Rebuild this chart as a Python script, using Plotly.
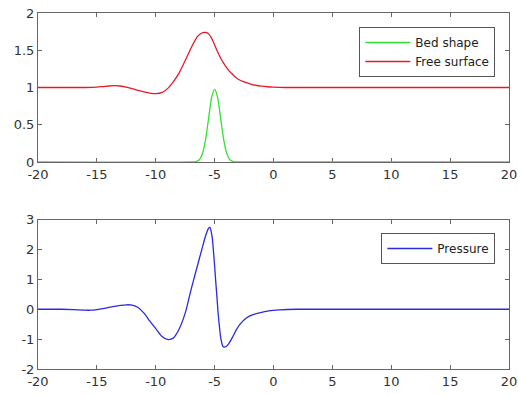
import plotly.graph_objects as go
from plotly.subplots import make_subplots

# ---- data ----
bed_x = [-20, -7.0, -6.6, -6.3, -6.0, -5.75, -5.5, -5.25, -5.0, -4.75, -4.5, -4.25, -4.0, -3.7, -3.4, -3.0, 20]
bed_y = [0, 0, 0.005, 0.03, 0.13, 0.32, 0.6, 0.87, 0.975, 0.87, 0.6, 0.32, 0.13, 0.03, 0.005, 0, 0]

surf_x = [-20, -16, -15, -14.5, -14, -13.5, -13, -12.5, -12, -11.5, -11, -10.5, -10, -9.5, -9, -8.5,
          -8, -7.5, -7, -6.5, -6.25, -6, -5.75, -5.5, -5.25, -5, -4.75, -4.5, -4.25, -4, -3.75, -3.5,
          -3.25, -3, -2.5, -2, -1.5, -1, -0.5, 0, 1, 20]
surf_y = [1.0, 1.0, 1.005, 1.012, 1.02, 1.024, 1.02, 1.005, 0.985, 0.96, 0.94, 0.925, 0.918, 0.93,
          0.985, 1.08, 1.2, 1.36, 1.53, 1.675, 1.715, 1.735, 1.74, 1.72, 1.66, 1.57, 1.48, 1.40,
          1.33, 1.27, 1.22, 1.18, 1.14, 1.11, 1.075, 1.05, 1.03, 1.018, 1.01, 1.005, 1.0, 1.0]

pres_x = [-20, -18, -17, -16, -15.5, -15, -14.5, -14, -13.5, -13, -12.5, -12, -11.5, -11, -10.5,
          -10, -9.5, -9, -8.7, -8.5, -8, -7.5, -7, -6.5, -6, -5.75, -5.5, -5.4, -5.3, -5.2, -5.1,
          -5.0, -4.9, -4.8, -4.7, -4.6, -4.5, -4.4, -4.3, -4.2, -4.0, -3.8, -3.5, -3.15, -2.8, -2.3,
          -1.8, -1.2, -0.4, 0.5, 2, 20]
pres_y = [0, 0, -0.01, -0.03, -0.03, -0.01, 0.02, 0.06, 0.1, 0.13, 0.15, 0.14, 0.06, -0.13, -0.40,
          -0.65, -0.9, -1.01, -1.0, -0.96, -0.65, -0.13, 0.66, 1.40, 2.13, 2.48, 2.72, 2.74, 2.62,
          2.39, 1.95, 1.45, 0.9, 0.4, -0.15, -0.55, -0.9, -1.12, -1.24, -1.27, -1.24, -1.15, -0.95,
          -0.68, -0.48, -0.29, -0.19, -0.12, -0.05, -0.02, 0, 0]

x_ticks = [-20, -15, -10, -5, 0, 5, 10, 15, 20]
x_labels = ["-20", "-15", "-10", "-5", "0", "5", "10", "15", "20"]
top_ticks = [0, 0.5, 1, 1.5, 2]
top_labels = ["0", "0.5", "1", "1.5", "2"]
bot_ticks = [-2, -1, 0, 1, 2, 3]
bot_labels = ["-2", "-1", "0", "1", "2", "3"]

fig = make_subplots(rows=2, cols=1, vertical_spacing=0.1)

fig.add_trace(go.Scatter(x=bed_x, y=bed_y, mode="lines", name="Bed shape",
                         line=dict(color="#33e033", width=1.3, shape="spline", smoothing=0.6),
                         legend="legend"), row=1, col=1)
fig.add_trace(go.Scatter(x=surf_x, y=surf_y, mode="lines", name="Free surface",
                         line=dict(color="#e81a2a", width=1.3, shape="spline", smoothing=0.6),
                         legend="legend"), row=1, col=1)
fig.add_trace(go.Scatter(x=pres_x, y=pres_y, mode="lines", name="Pressure",
                         line=dict(color="#2a2ae0", width=1.3, shape="spline", smoothing=0.8),
                         legend="legend2"), row=2, col=1)

axis_common = dict(showline=True, linecolor="#666666", linewidth=1, mirror="ticks",
                   ticks="inside", ticklen=4, tickcolor="#666666", showgrid=False,
                   zeroline=False, tickfont=dict(family="DejaVu Sans", size=13, color="#333333"),
                   layer="below traces", automargin=False, ticklabeloverflow="allow")

fig.update_xaxes(range=[-20, 20], tickvals=x_ticks, ticktext=x_labels, **axis_common)
fig.update_yaxes(range=[0, 2], tickvals=top_ticks, ticktext=top_labels, row=1, col=1, **axis_common)
fig.update_yaxes(range=[-2, 3], tickvals=bot_ticks, ticktext=bot_labels, row=2, col=1, **axis_common)

fig.update_layout(
    width=518, height=396,
    margin=dict(l=38, r=9, t=13, b=27, autoexpand=False),
    paper_bgcolor="white", plot_bgcolor="white",
    font=dict(family="DejaVu Sans", size=12, color="#222222"),
    xaxis=dict(domain=[0, 1]), xaxis2=dict(domain=[0, 1]),
    yaxis=dict(domain=[0.5815, 1.0]), yaxis2=dict(domain=[0, 0.4194]),
    legend=dict(x=0.971, y=0.9607, xanchor="right", yanchor="top",
                bordercolor="#555555", borderwidth=1, bgcolor="white",
                font=dict(family="DejaVu Sans", size=12, color="#222222"),
                tracegroupgap=0, itemwidth=45),
    legend2=dict(x=0.971, y=0.382, xanchor="right", yanchor="top",
                 bordercolor="#555555", borderwidth=1, bgcolor="white",
                 font=dict(family="DejaVu Sans", size=12, color="#222222"),
                 itemwidth=45),
    showlegend=True,
)

fig.write_html("out.html", config={"displayModeBar": False},
               post_script="document.body.style.margin='0';")
